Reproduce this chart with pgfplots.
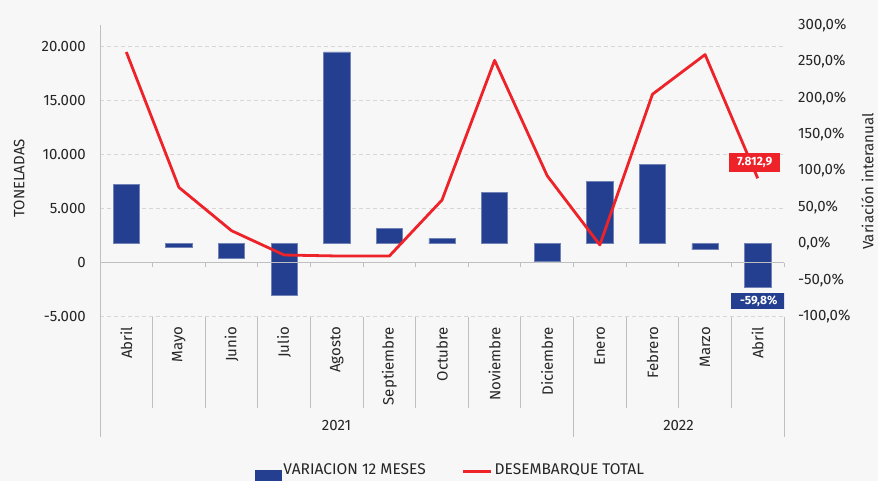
\documentclass[border=0pt]{standalone}
\usepackage{fontspec}
\setmainfont{Fira Sans}
\usepackage{pgfplots}
\usepackage{pgfplotstable}
\pgfplotsset{compat=1.18}
\definecolor{barblue}{HTML}{243F8F}
\definecolor{linered}{HTML}{EE2229}
\definecolor{bg}{HTML}{F7F7F7}
\definecolor{gridc}{HTML}{D6D6D6}
\definecolor{axc}{HTML}{BFBFBF}
\definecolor{txt}{HTML}{262626}

\pgfplotstableread{
idx pct
0 81.9
1 -4.5
2 -19.6
3 -70.4
4 263.0
5 20.6
6 6.9
7 70.0
8 -24.7
9 85.5
10 108.4
11 -8.2
12 -59.8
}\bardata

\pgfplotstableread{
idx ton
0 19500
1 6970
2 2960
3 710
4 620
5 620
6 5800
7 18730
8 8040
9 1640
10 15590
11 19260
12 7812.9
}\linedata

\newcommand{\fs}{\fontsize{15bp}{18bp}\selectfont}
\pgfplotsset{
  base/.style={scale only axis, width=684bp, height=291.7bp,
    at={(100bp,164.3bp)}, anchor=south west,
    xmin=-0.5, xmax=12.5, major tick length=0pt,
    scaled y ticks=false, scaled x ticks=false,
    tick label style={font=\fs, text=txt}},
}

\begin{document}
\begin{tikzpicture}[text=txt]
\fill[bg] (0,0) rectangle (878bp,481bp);
\useasboundingbox (0,0) rectangle (878bp,481bp);
\clip (0,0) rectangle (878bp,481bp);

% grid, left ticks, category labels
\begin{axis}[base, ymin=-5000, ymax=22000,
  axis x line*=bottom, axis y line*=left, axis line style={draw=none},
  ytick={-5000,0,5000,10000,15000,20000},
  yticklabels={-5.000,0,5.000,10.000,15.000,20.000},
  yticklabel style={anchor=east, inner sep=0pt}, yticklabel shift=14bp,
  ymajorgrids, grid style={gridc, dash pattern=on 4bp off 3bp, line width=0.9bp},
  xtick={0,...,12},
  xticklabels={Abril,Mayo,Junio,Julio,Agosto,Septiembre,Octubre,Noviembre,Diciembre,Enero,Febrero,Marzo,Abril},
  xticklabel style={rotate=90, anchor=east, inner sep=0pt}, xticklabel shift=10bp]
\addplot[draw=none] coordinates {(0,0)};
\end{axis}

% bars on right axis
\begin{axis}[base, ymin=-100, ymax=300,
  axis x line=none, axis y line*=right, y axis line style={draw=none},
  ytick={-100,-50,...,300},
  yticklabels={{-100,0\%},{-50,0\%},{0,0\%},{50,0\%},{100,0\%},{150,0\%},{200,0\%},{250,0\%},{300,0\%}},
  yticklabel style={anchor=west, inner sep=0pt}, yticklabel shift=14bp]
\addplot[ybar, bar width=0.5, fill=barblue, draw=barblue!65!white, line width=0.6bp] table[x=idx,y=pct]{\bardata};
\node[fill=barblue, text=white, font=\bfseries\fontsize{12bp}{14bp}\selectfont,
  minimum width=55bp, minimum height=16bp, inner sep=0pt, xshift=1bp, yshift=-13.5bp]
  at (axis cs:12,-59.8) {-59,8\%};
\end{axis}

% zero line and category separators
\draw[axc, line width=1.3bp] (100bp,218.3bp) -- (784bp,218.3bp);
\foreach \k in {1,...,13} {
  \draw[axc, line width=1bp] ({100bp+\k*52.6154bp},218.3bp) -- ++(0,-4bp);
}
\foreach \k in {1,2,3,4,5,6,7,8,10,11,12} {
  \draw[axc, line width=1bp] ({100bp+\k*52.6154bp},164.3bp) -- ({100bp+\k*52.6154bp},73bp);
}
\foreach \k in {9,13} {
  \draw[axc, line width=1bp] ({100bp+\k*52.6154bp},164.3bp) -- ({100bp+\k*52.6154bp},44.3bp);
}
\draw[axc, line width=1bp] (100bp,456bp) -- (100bp,44.3bp);

\node[font=\fs] at (336.5bp,56bp) {2021};
\node[font=\fs] at (678.5bp,56bp) {2022};
\node[font=\fs, rotate=90] at (19.3bp,302.7bp) {TONELADAS};
\node[font=\fs, rotate=90] at (867.5bp,299.5bp) {Variación interanual};

% line on left axis
\begin{axis}[base, ymin=-5000, ymax=22000, hide axis,
  legend style={at={(axis description cs:0.2266,-0.530)}, anchor=west,
    draw=none, fill=none, inner sep=0pt, outer sep=0pt,
    font=\fontsize{15.5bp}{18bp}\selectfont, text=txt,
    legend columns=2, /tikz/every even column/.append style={column sep=34bp}},
  legend cell align=left]
\addlegendimage{legend image code/.code={\fill[barblue] (0bp,-10bp) rectangle (26bp,0bp);}}
\addlegendentry{VARIACION 12 MESES}
\addplot[linered, line width=2.8bp, line join=round,
  legend image code/.code={\draw[linered, line width=3bp] (0bp,-1bp) -- (28bp,-1bp);}]
  table[x=idx,y=ton]{\linedata};
\addlegendentry{DESEMBARQUE TOTAL}
\node[fill=linered, text=white, font=\bfseries\fontsize{12bp}{14bp}\selectfont,
  minimum width=51bp, minimum height=19bp, inner sep=0pt, xshift=-3bp, yshift=16bp]
  at (axis cs:12,7812.9) {7.812,9};
\end{axis}
\end{tikzpicture}
\end{document}
